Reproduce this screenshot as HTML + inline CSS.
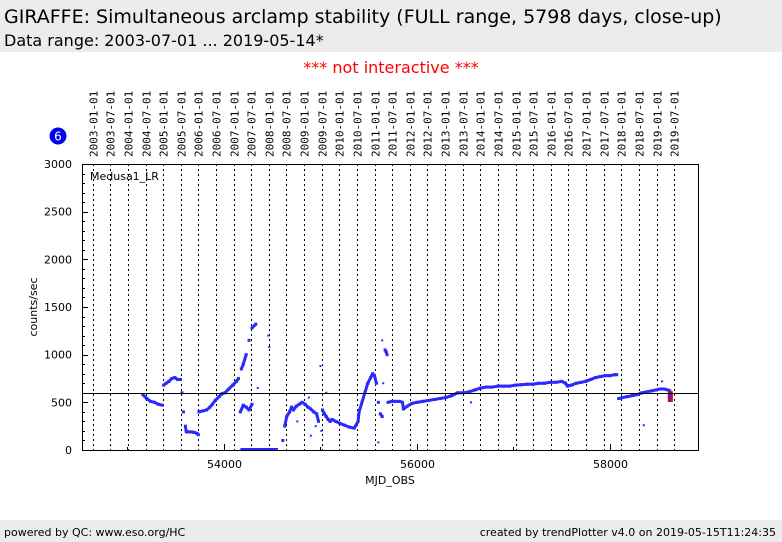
<!DOCTYPE html>
<html><head><meta charset="utf-8">
<style>
body{margin:0;width:782px;height:542px;background:#fff;font-family:"DejaVu Sans","Liberation Sans",sans-serif;overflow:hidden;position:relative}
#hdr{position:absolute;left:0;top:0;width:782px;height:52px;background:#ececec}
#t1{position:absolute;left:4px;top:6px;font-size:19px;color:#000;white-space:nowrap}
#t2{position:absolute;left:4px;top:31px;font-size:16px;color:#000;white-space:nowrap}
#ni{position:absolute;left:0;width:782px;top:58px;text-align:center;color:#f00;font-size:16px}
#ftr{position:absolute;left:0;top:520px;width:782px;height:22px;background:#ececec;font-size:11px}
#ftr span{position:absolute;top:6px}
svg{position:absolute;left:0;top:0}
</style></head><body>
<div id="hdr">
<div id="t1">GIRAFFE: Simultaneous arclamp stability (FULL range, 5798 days, close-up)</div>
<div id="t2">Data range: 2003-07-01 ... 2019-05-14*</div>
</div>
<div id="ni">*** not interactive ***</div>
<svg id="chart" width="782" height="542"></svg>
<div id="ftr">
<span style="left:4px">powered by QC: www.eso.org/HC</span>
<span style="right:6px">created by trendPlotter v4.0 on 2019-05-15T11:24:35</span>
</div>
<script>
const mjd=[
53160,53200,53240,53280,53320,53360,
53375,53400,53430,53460,53490,53520,53550,
53565,53580,53600,
53610,53630,53660,53690,53720,53735,
53740,53780,53820,53855,53880,53910,53950,53980,54010,54050,54090,54130,54150,
54170,54200,54230,54260,54290,
54180,54200,54230,54260,54290,54330,
54610,54630,54650,54680,54700,
54720,54750,54780,54810,54840,54870,54900,54930,54960,
54980,55020,55040,55060,55080,55100,
55120,55160,55200,55250,55300,55350,55390,
55400,55430,55460,55490,55520,55540,55560,55580,55600,55620,55640,
55670,55680,55690,
55700,55740,55780,55820,55850,
55860,55900,55950,56000,56060,56120,56180,56240,56300,56360,
56420,56480,56540,56600,56660,56720,56780,56840,56900,56960,
57020,57080,57140,57200,57260,57320,57380,57440,57500,57540,
57560,57600,57650,57700,57750,57800,57850,57900,57950,58000,
58050,58070,
58090,58130,58180,58230,58280,58330,58380,58430,58480,58520,58560,58600,58620];
const counts=[
580,540,510,500,480,470,
680,700,720,750,760,740,740,
600,400,250,
190,190,190,185,175,160,
400,410,420,450,480,520,560,590,600,640,680,720,750,
400,470,450,420,480,
850,900,1000,1150,1280,1320,
100,250,350,400,450,
420,460,480,500,480,450,430,400,380,
300,420,380,350,320,300,
320,300,280,260,240,230,300,
400,500,600,700,760,800,780,700,500,380,350,
1050,1030,1000,
500,510,510,510,500,
430,460,490,500,510,520,530,540,550,570,
600,600,610,630,650,660,660,670,670,670,
680,685,690,690,700,700,710,710,720,700,
670,680,700,710,720,740,760,770,780,780,
790,790,
540,550,560,570,580,600,610,620,630,640,640,630,620];
const scatMjd=[55000,54900,54950,55010,55600,55650,55640,56560,58350,58540,54350,54460,54470,54760,54880,55060];
const scatCounts=[880,150,250,200,80,700,1150,500,260,720,650,1200,1080,300,550,600];
const xTicks=[54000,56000,58000];
const xMinor=[53000,55000,57000];
const yTicks=[0,500,1000,1500,2000,2500,3000];
const years=[2003,2004,2005,2006,2007,2008,2009,2010,2011,2012,2013,2014,2015,2016,2017,2018,2019];
const refLine=600;
const redPts=[530,560,590];
const redMjd=58625;

const svg=document.getElementById('chart');
const NS='http://www.w3.org/2000/svg';
const L=82,R=698,T=164,B=450;
const X0=52529,X1=58912,Y0=0,Y1=3000;
const sx=m=>L+(m-X0)/(X1-X0)*(R-L);
const sy=v=>B-(v-Y0)/(Y1-Y0)*(B-T);
function mk(tag,attrs,parent){const e=document.createElementNS(NS,tag);for(const k in attrs)e.setAttribute(k,attrs[k]);(parent||svg).appendChild(e);return e;}

const dates=[];
years.forEach(y=>{[0,6].forEach(mo=>{dates.push({lab:y+'-'+(mo?'07':'01')+'-01',m:Date.UTC(y,mo,1)/86400000+40587});});});
dates.forEach(d=>{
  if(d.m<X0||d.m>X1)return;
  const x=Math.round(sx(d.m))+0.5;
  const ln=mk('line',{x1:x,x2:x,y1:T,y2:B,stroke:'#000','stroke-width':1,'stroke-dasharray':'2,3'});
  
  
  const t=mk('text',{x:0,y:0,transform:`translate(${x+4},157) rotate(-90)`,'font-size':11,'font-family':'DejaVu Sans Mono, Liberation Mono, monospace',fill:'#000'});
  t.textContent=d.lab;
  
  
});

const bc=mk('circle',{cx:58,cy:136,r:8.5,fill:'#0000ee'});


const bt=mk('text',{x:58,y:140.5,'text-anchor':'middle','font-size':12,fill:'#fff'});bt.textContent='6';



const g=mk('g',{});


const n=Math.min(mjd.length,counts.length);
for(let i=0;i<n;i++){
  if(i>0&&mjd[i]-mjd[i-1]>0&&mjd[i]-mjd[i-1]<70&&Math.abs(counts[i]-counts[i-1])<120){
    const s=mk('line',{x1:sx(mjd[i-1]),y1:sy(counts[i-1]),x2:sx(mjd[i]),y2:sy(counts[i]),stroke:'#2a2aff','stroke-width':3},g);
    
    
  }
  const p=mk('rect',{x:sx(mjd[i])-1.5,y:sy(counts[i])-1.5,width:3,height:3,fill:'#2a2aff'},g);
  
  
}
for(let i=0;i<Math.min(scatMjd.length,scatCounts.length);i++){
  const p=mk('rect',{x:sx(scatMjd[i])-1,y:sy(scatCounts[i])-1,width:2,height:2,fill:'#2a2aff'},g);
  
  
}
const zl=mk('line',{x1:sx(54170),x2:sx(54560),y1:B-1,y2:B-1,stroke:'#2a2aff','stroke-width':2});


redPts.forEach(v=>{
  const r=mk('rect',{x:sx(redMjd)-2,y:sy(v)-2,width:4,height:4,fill:'#3030ff',stroke:'#e00','stroke-width':1});
  
  
});

const rl=mk('line',{x1:L,x2:R,y1:Math.round(sy(refLine))+0.5,y2:Math.round(sy(refLine))+0.5,stroke:'#000','stroke-width':1});



const fr=mk('rect',{x:L+0.5,y:T+0.5,width:R-L,height:B-T,fill:'none',stroke:'#000','stroke-width':1});



for(let v=0;v<=3000;v+=100){
  const y=Math.round(sy(v))+0.5;const maj=v%500===0;
  const tk=mk('line',{x1:L,x2:L+(maj?6:3),y1:y,y2:y,stroke:'#000'});
  
  
}
yTicks.forEach(v=>{
  const t=mk('text',{x:L-10,y:sy(v)+4,'text-anchor':'end','font-size':11,fill:'#000'});t.textContent=v;
  
  
});
xTicks.forEach(v=>{
  const x=Math.round(sx(v))+0.5;
  const tk=mk('line',{x1:x,x2:x,y1:B,y2:B-6,stroke:'#000'});
  
  
  const t=mk('text',{x:x,y:B+18,'text-anchor':'middle','font-size':11,fill:'#000'});t.textContent=v;
  
  
});
xMinor.forEach(v=>{
  const x=Math.round(sx(v))+0.5;
  const tk=mk('line',{x1:x,x2:x,y1:B,y2:B-3,stroke:'#000'});
  
  
});
const xt=mk('text',{x:(L+R)/2,y:484,'text-anchor':'middle','font-size':11,fill:'#000'});xt.textContent='MJD_OBS';


const yt=mk('text',{x:0,y:0,transform:`translate(37,307) rotate(-90)`,'text-anchor':'middle','font-size':11,fill:'#000'});yt.textContent='counts/sec';


const lg=mk('text',{x:90,y:180,'font-size':11,fill:'#000'});lg.textContent='Medusa1_LR';


</script>
</body></html>
